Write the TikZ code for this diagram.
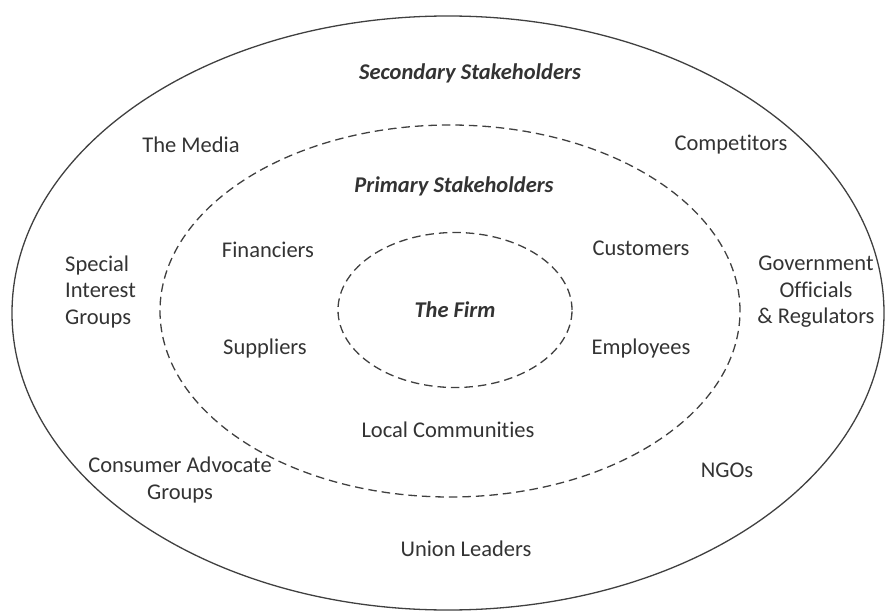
\documentclass[tikz,border=0pt]{standalone}
\usepackage{fontspec}
\setmainfont[Ligatures={NoCommon}]{Carlito}
\usetikzlibrary{positioning,shapes.geometric}

\begin{document}
\begin{tikzpicture}[x=1pt,y=-1pt,font=\fontsize{22.5}{26.5}\selectfont,color=black!80]
            % Define the styles for the rings and the labels
            \tikzstyle{ring} = [ellipse, draw=black!75, line width=1.3pt, inner sep=0pt]
            \tikzstyle{dashring} = [ring, line width=1.3pt, dash pattern=on 8.5pt off 5pt]
            \tikzstyle{party} = [inner sep=0pt, align=center]
            \tikzstyle{title} = [party, font=\fontsize{22.5}{26.5}\selectfont\bfseries\itshape]

            \useasboundingbox (0,0) rectangle (885,612);

            % Rings
            \node [ring, minimum width=872pt, minimum height=594pt] (secondary) at (448,313) {};
            \node [dashring, minimum width=580pt, minimum height=372pt] (primary) at (450,311) {};
            \node [dashring, minimum width=234pt, minimum height=155pt, font=\fontsize{22.5}{26.5}\selectfont\bfseries\itshape] (firm) at (455,310) {The Firm};

            % Titles
            \node [title] (sectitle) at (470,73) {Secondary Stakeholders};
            \node [title] (primtitle) at (454,186) {Primary Stakeholders};

            % Primary stakeholders
            \node [party] (financiers) at (268,250) {Financiers};
            \node [party] (customers) at (641,248) {Customers};
            \node [party] (suppliers) at (265,348) {Suppliers};
            \node [party] (employees) at (641,348) {Employees};
            \node [party] (communities) at (448,430) {Local Communities};

            % Secondary stakeholders
            \node [party] (media) at (191,145) {The Media};
            \node [party] (competitors) at (731,145) {Competitors};
            \node [party, align=left, anchor=west] (interest) at (65,292) {Special\\Interest\\Groups};
            \node [party] (government) at (816,292) {Government\\Officials\\\& Regulators};
            \node [party] (consumer) at (180,480) {Consumer Advocate\\Groups};
            \node [party] (ngos) at (727,470) {NGOs};
            \node [party] (union) at (466,549) {Union Leaders};
        \end{tikzpicture}
\end{document}
